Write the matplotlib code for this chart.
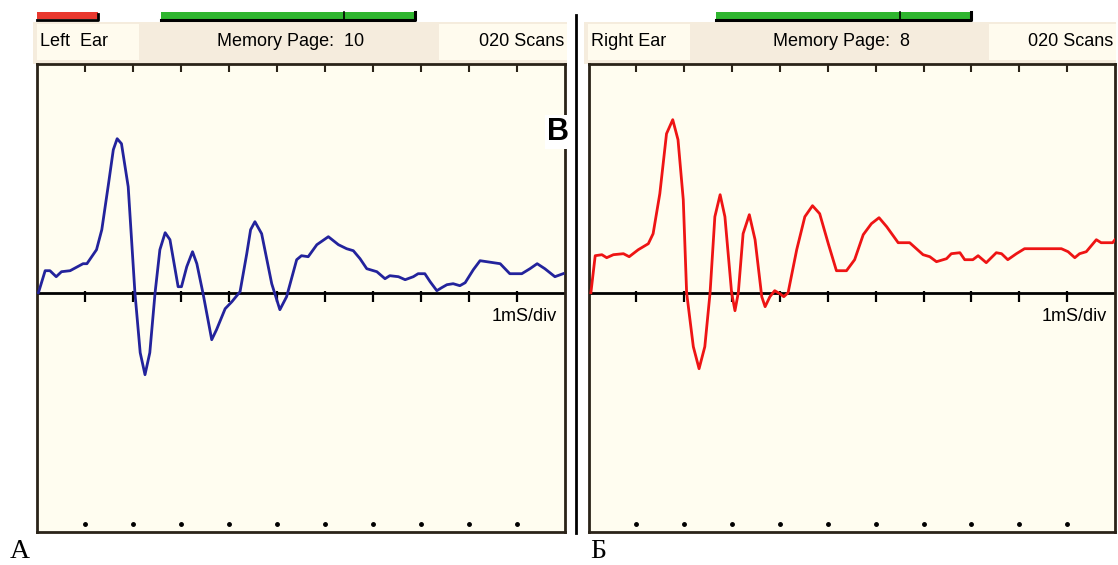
import matplotlib
matplotlib.use("Agg")
import matplotlib.pyplot as plt
from matplotlib.patches import Rectangle

# --- data: time (ms) and amplitude (uV) ---
left_t = [0.03, 0.17, 0.27, 0.40, 0.51, 0.69, 0.96, 1.04, 1.24, 1.35, 1.49, 1.59, 1.67,
          1.76, 1.90, 2.04, 2.15, 2.25, 2.35, 2.46, 2.56, 2.67, 2.77, 2.94, 3.01, 3.12,
          3.24, 3.33, 3.46, 3.64, 3.74, 3.92, 4.06, 4.23, 4.37, 4.45, 4.54, 4.68, 4.89,
          5.06, 5.20, 5.41, 5.51, 5.65, 5.83, 6.07, 6.28, 6.45, 6.59, 6.73, 6.87, 7.08,
          7.25, 7.35, 7.53, 7.67, 7.84, 7.94, 8.08, 8.19, 8.33, 8.43, 8.54, 8.67, 8.81,
          8.92, 9.09, 9.23, 9.37, 9.65, 9.85, 10.10, 10.27, 10.42, 10.58, 10.79, 10.96]
left_amp = [0.00, 0.22, 0.22, 0.16, 0.21, 0.22, 0.29, 0.29, 0.43, 0.63, 1.09, 1.43, 1.54,
            1.49, 1.06, 0.00, -0.60, -0.82, -0.60, 0.00, 0.43, 0.60, 0.53, 0.06, 0.06, 0.26,
            0.41, 0.29, -0.01, -0.47, -0.37, -0.16, -0.09, 0.01, 0.39, 0.63, 0.71, 0.59, 0.09,
            -0.17, -0.04, 0.33, 0.37, 0.36, 0.48, 0.56, 0.48, 0.44, 0.42, 0.34, 0.24, 0.21,
            0.14, 0.17, 0.16, 0.13, 0.16, 0.19, 0.19, 0.11, 0.02, 0.05, 0.08, 0.09, 0.07,
            0.10, 0.23, 0.32, 0.31, 0.29, 0.19, 0.19, 0.24, 0.29, 0.24, 0.16, 0.19]

right_t = [0.05, 0.14, 0.28, 0.38, 0.52, 0.73, 0.85, 1.04, 1.25, 1.35, 1.49, 1.63, 1.76,
           1.87, 1.98, 2.05, 2.19, 2.31, 2.43, 2.54, 2.64, 2.75, 2.85, 2.99, 3.06, 3.13,
           3.23, 3.36, 3.48, 3.62, 3.69, 3.79, 3.89, 4.00, 4.08, 4.17, 4.35, 4.52, 4.68,
           4.83, 5.01, 5.18, 5.39, 5.56, 5.74, 5.91, 6.07, 6.23, 6.47, 6.71, 6.99, 7.13,
           7.27, 7.48, 7.58, 7.76, 7.86, 8.03, 8.14, 8.31, 8.52, 8.63, 8.76, 8.94, 9.11,
           9.88, 10.02, 10.16, 10.26, 10.40, 10.61, 10.71, 10.95, 11.00]
right_amp = [0.00, 0.37, 0.38, 0.35, 0.38, 0.39, 0.36, 0.43, 0.49, 0.59, 0.99, 1.59, 1.73,
             1.53, 0.93, 0.00, -0.54, -0.76, -0.54, 0.00, 0.76, 0.98, 0.76, 0.00, -0.18, 0.00,
             0.59, 0.78, 0.53, -0.04, -0.14, -0.04, 0.02, -0.01, -0.04, 0.00, 0.43, 0.76, 0.87,
             0.79, 0.49, 0.22, 0.22, 0.33, 0.58, 0.69, 0.75, 0.66, 0.50, 0.50, 0.38, 0.36,
             0.31, 0.34, 0.39, 0.40, 0.33, 0.33, 0.37, 0.30, 0.40, 0.39, 0.33, 0.39, 0.44,
             0.44, 0.41, 0.35, 0.39, 0.41, 0.53, 0.50, 0.50, 0.53]

div_ticks = [1, 2, 3, 4, 5, 6, 7, 8, 9, 10]
ear_labels = ["Left  Ear", "Right Ear"]
page_labels = ["Memory Page:  10", "Memory Page:  8"]
scan_label = "020 Scans"
scale_label = "1mS/div"
panel_letters = ["А", "Б"]

SANS = ["Liberation Sans", "DejaVu Sans"]
BOX_FILL = "#fffdf0"
HEAD_DARK = "#f5ecdd"
HEAD_LIGHT = "#fffbee"
EDGE = "#2a2318"

W, H = 1118, 565
fig = plt.figure(figsize=(W / 100, H / 100), dpi=100)
fig.patch.set_facecolor("white")

# background layer in pixel units for the instrument chrome
bg = fig.add_axes([0, 0, 1, 1])
bg.set_xlim(0, W)
bg.set_ylim(H, 0)
bg.axis("off")
bg.set_zorder(0)

panels = [
    dict(x0=37, x1=565, t=left_t, a=left_amp, color="#23239c", head=(37, 139, 439, 567)),
    dict(x0=588.5, x1=1115, t=right_t, a=right_amp, color="#ee1414", head=(588, 690, 989, 1116)),
]
y_top, y_bot, y_zero = 64, 532, 292.7
px_per_uv = 100.0

# header bands
for p in panels:
    a, b, c, d = p["head"]
    bg.add_patch(Rectangle((a - 4, 22), d - a + 4, 42, color=HEAD_DARK, lw=0))
    bg.add_patch(Rectangle((a, 24), b - a, 36, color=HEAD_LIGHT, lw=0))
    bg.add_patch(Rectangle((c, 24), d - c, 36, color=HEAD_LIGHT, lw=0))

# coloured status bars at the top edge
bg.add_patch(Rectangle((37, 12), 61, 7, facecolor="#e8382e", edgecolor="none"))
bg.plot([37, 98, 98], [19.5, 19.5, 14], color="black", lw=2)
for gx0, gdiv, gx1 in [(161, 344, 415), (716, 900, 971)]:
    bg.add_patch(Rectangle((gx0, 12), gx1 - gx0, 8, facecolor="#2fb52f", edgecolor="none"))
    bg.plot([gx0, gx1, gx1], [20, 20, 12], color="black", lw=2.2)
    bg.plot([gdiv, gdiv], [12, 20], color="black", lw=1.2)

# divider between the two ears
bg.plot([576, 576], [15, 533], color="black", lw=2)

# header texts
for p, ear, page in zip(panels, ear_labels, page_labels):
    a, b, c, d = p["head"]
    bg.text(a + 3, 42, ear, family=SANS, fontsize=13, va="center", ha="left")
    bg.text((b + c) / 2 + 2, 42, page, family=SANS, fontsize=13, va="center", ha="center")
    bg.text(d - 3, 42, scan_label, family=SANS, fontsize=13, va="center", ha="right")

# panel letters below
for letter, lx in zip(panel_letters, [10, 590]):
    bg.text(lx, 551, letter, family=["Liberation Serif", "DejaVu Serif"], fontsize=20,
            va="center", ha="left")

ylim = ((y_zero - y_bot) / px_per_uv, (y_zero - y_top) / px_per_uv)

for p in panels:
    ax = fig.add_axes([p["x0"] / W, (H - y_bot) / H, (p["x1"] - p["x0"]) / W, (y_bot - y_top) / H])
    ax.set_zorder(1)
    ax.set_facecolor(BOX_FILL)
    ax.set_xlim(0, 11)
    ax.set_ylim(*ylim)
    for s in ax.spines.values():
        s.set_color(EDGE)
        s.set_linewidth(2)
    ax.set_xticks(div_ticks)
    ax.set_xticklabels([])
    ax.set_yticks([])
    ax.tick_params(axis="x", top=True, bottom=False, direction="in", length=6, width=1.5,
                   color=EDGE)
    # baseline with division marks
    ax.axhline(0, color="black", lw=2, zorder=2)
    ax.vlines(div_ticks, -0.09, 0.02, color="black", lw=1.6, zorder=2)
    # dotted graticule marks along the bottom
    ax.plot(div_ticks, [ylim[0] + 0.08] * len(div_ticks), "o", ms=2.5, color="black", zorder=2)
    ax.plot(p["t"], p["a"], color=p["color"], lw=2, zorder=3, solid_joinstyle="round")
    ax.text(0.985, -0.24, scale_label, transform=ax.get_yaxis_transform(), family=SANS,
            fontsize=13, ha="right", va="center", zorder=4)

# the stray panel mark sitting on the left box edge
txt_ax = fig.add_axes([0, 0, 1, 1])
txt_ax.set_xlim(0, W)
txt_ax.set_ylim(H, 0)
txt_ax.axis("off")
txt_ax.set_zorder(2)
txt_ax.text(558, 132, "B", fontsize=22, fontweight="bold", family=SANS, ha="center",
            va="center", bbox=dict(facecolor="white", edgecolor="none", pad=1.5))

fig.savefig("out.png", dpi=100)
